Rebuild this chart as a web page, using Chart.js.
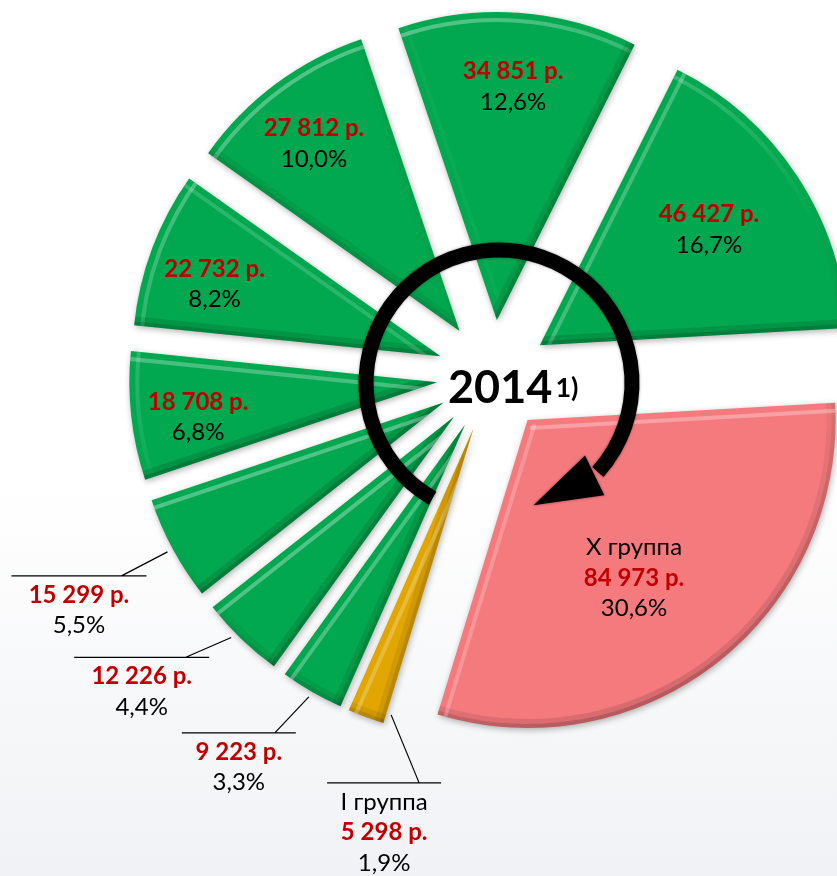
<!DOCTYPE html>
<html lang="ru">
<head>
    <meta charset="UTF-8">
    <title>2014 — распределение по группам</title>
    <script src="https://cdn.jsdelivr.net/npm/chart.js"></script>
    <style>
        html, body { margin: 0; padding: 0; background: #fff; }
        canvas#groups-chart { display: block; }
    </style>
</head>
<body>
    <canvas id="groups-chart" width="837" height="876"></canvas>

    <script>
        // Данные: группы от I до X (по часовой стрелке)
        const groupNames = ['I группа', 'II группа', 'III группа', 'IV группа', 'V группа',
                            'VI группа', 'VII группа', 'VIII группа', 'IX группа', 'X группа'];
        const groupValues = [5298, 9223, 12226, 15299, 18708, 22732, 27812, 34851, 46427, 84973];
        const valueLabels = ['5 298 р.', '9 223 р.', '12 226 р.', '15 299 р.', '18 708 р.',
                             '22 732 р.', '27 812 р.', '34 851 р.', '46 427 р.', '84 973 р.'];
        const percentLabels = ['1,9%', '3,3%', '4,4%', '5,5%', '6,8%',
                               '8,2%', '10,0%', '12,6%', '16,7%', '30,6%'];
        const shownNames = ['I группа', '', '', '', '', '', '', '', '', 'X группа'];
        const yearLabel = '2014';
        const yearNote = '1)';

        // Оформление
        const GREEN = '#02a84f';
        const GOLD = '#e2a600';
        const PINK = '#f47a7e';
        const sliceColors = [GOLD, GREEN, GREEN, GREEN, GREEN, GREEN, GREEN, GREEN, GREEN, PINK];
        const pieRadius = 308;
        const explodeShift = 56;
        const startRotation = 197;
        const valueRed = '#c00000';
        const fontFamily = 'Lato, "Open Sans", sans-serif';
        const lineGap = 30.5;

        // подписи внутри сектора: доля радиуса и поправка угла (град.)
        const insideAt = {
            4: { r: 0.785, da: -2.0 },
            5: { r: 0.77, da: -2.9 },
            6: { r: 0.77, da: -1.2 },
            7: { r: 0.76, da: 0 },
            8: { r: 0.665, da: -1 },
            9: { r: 0.618, da: 4.1 }
        };
        // выноски: сдвиг угла, добавка к радиусу, излом, полка
        const leaders = {
            0: { da: -4.4, dr: -10, dx: 28, dy: 68, left: 92, right: 22 },
            1: { da: 0, dr: 6, dx: -34, dy: 36, left: 93, right: 21 },
            2: { da: 1.5, dr: 6, dx: -46, dy: 20, left: 111, right: 24 },
            3: { da: 0, dr: 6, dx: -46, dy: 24, left: 110, right: 25 }
        };

        const rad = d => d * Math.PI / 180;
        const LIGHT = { x: -0.42, y: -0.91 };
        const HI = 0.32;                       // яркость блика
        const SHADE = [[18, 0.12], [8, 0.16]]; // ширина и плотность тени

        const backgroundPlugin = {
            id: 'paper',
            beforeDraw(chart) {
                const { ctx, width, height } = chart;
                const g = ctx.createLinearGradient(0, 0, 0, height);
                g.addColorStop(0, '#ffffff');
                g.addColorStop(0.55, '#ffffff');
                g.addColorStop(1, '#f1f2f5');
                ctx.save();
                ctx.fillStyle = g;
                ctx.fillRect(0, 0, width, height);
                ctx.restore();
            }
        };

        // раздвигаем секторы вдоль биссектрис, радиус не меняется
        const explodePlugin = {
            id: 'explode',
            beforeDatasetsDraw(chart) {
                const a = chart.chartArea;
                const cx = (a.left + a.right) / 2, cy = (a.top + a.bottom) / 2;
                chart.getDatasetMeta(0).data.forEach(arc => {
                    const mid = (arc.startAngle + arc.endAngle) / 2;
                    arc.x = cx + explodeShift * Math.cos(mid);
                    arc.y = cy + explodeShift * Math.sin(mid);
                });
                const ctx = chart.ctx;
                ctx.save();
                ctx.shadowColor = 'rgba(0, 0, 0, 0.3)';
                ctx.shadowBlur = 6;
                ctx.shadowOffsetX = 1;
                ctx.shadowOffsetY = 2;
            },
            afterDatasetsDraw(chart) {
                chart.ctx.restore();
            }
        };

        // объёмная фаска: светлая полоска на освещённых краях, тень на остальных
        function toneOf(nx, ny) {
            return nx * LIGHT.x + ny * LIGHT.y;
        }

        function conic(ctx, x, y, rgb, alphaOf) {
            const g = ctx.createConicGradient(0, x, y);
            for (let d = 0; d <= 360; d += 6) {
                const t = rad(d);
                const al = Math.max(0, alphaOf(toneOf(Math.cos(t), Math.sin(t))));
                g.addColorStop(d / 360, 'rgba(' + rgb + ',' + al.toFixed(3) + ')');
            }
            return g;
        }

        function bevelLine(ctx, x0, y0, x1, y1, nx, ny, tone) {
            if (tone > 0) {
                ctx.strokeStyle = 'rgba(255,255,255,' + (HI * tone).toFixed(3) + ')';
                ctx.lineWidth = 4;
                ctx.beginPath();
                ctx.moveTo(x0 - 8 * nx, y0 - 8 * ny);
                ctx.lineTo(x1 - 8 * nx, y1 - 8 * ny);
                ctx.stroke();
            } else {
                SHADE.forEach(([w, al]) => {
                    ctx.strokeStyle = 'rgba(0,0,0,' + (al * -tone).toFixed(3) + ')';
                    ctx.lineWidth = w;
                    ctx.beginPath();
                    ctx.moveTo(x0, y0);
                    ctx.lineTo(x1, y1);
                    ctx.stroke();
                });
            }
        }

        const bevelPlugin = {
            id: 'bevel',
            afterDatasetsDraw(chart) {
                const ctx = chart.ctx;
                chart.getDatasetMeta(0).data.forEach(arc => {
                    const { x, y, startAngle: s, endAngle: e, outerRadius: R } = arc;
                    ctx.save();
                    ctx.beginPath();
                    ctx.moveTo(x, y);
                    ctx.arc(x, y, R, s, e);
                    ctx.closePath();
                    ctx.clip();
                    ctx.lineCap = 'butt';
                    // дуга
                    ctx.strokeStyle = conic(ctx, x, y, '255,255,255', tn => HI * tn);
                    ctx.lineWidth = 4;
                    ctx.beginPath();
                    ctx.arc(x, y, R - 8, s - 0.05, e + 0.05);
                    ctx.stroke();
                    SHADE.forEach(([w, al]) => {
                        ctx.strokeStyle = conic(ctx, x, y, '0,0,0', tn => -al * tn);
                        ctx.lineWidth = w;
                        ctx.beginPath();
                        ctx.arc(x, y, R, s - 0.05, e + 0.05);
                        ctx.stroke();
                    });
                    // прямые края
                    [[s, s - Math.PI / 2], [e, e + Math.PI / 2]].forEach(([ang, nAng]) => {
                        const nx = Math.cos(nAng), ny = Math.sin(nAng);
                        bevelLine(ctx, x + 2 * Math.cos(ang), y + 2 * Math.sin(ang),
                            x + (R + 10) * Math.cos(ang), y + (R + 10) * Math.sin(ang),
                            nx, ny, toneOf(nx, ny));
                    });
                    ctx.restore();
                });
            }
        };

        function drawLines(ctx, x, y, lines) {
            lines.forEach((ln, n) => {
                ctx.font = (ln.bold ? 'bold ' : '') + '24px ' + fontFamily;
                ctx.fillStyle = ln.color;
                ctx.fillText(ln.text, x, y + n * lineGap);
            });
        }

        function linesFor(i) {
            const out = [];
            if (shownNames[i]) out.push({ text: shownNames[i], color: '#000', bold: false });
            out.push({ text: valueLabels[i], color: valueRed, bold: true });
            out.push({ text: percentLabels[i], color: '#000', bold: false });
            return out;
        }

        const labelsPlugin = {
            id: 'groupLabels',
            afterDatasetsDraw(chart) {
                const ctx = chart.ctx;
                const arcs = chart.getDatasetMeta(0).data;
                ctx.save();
                ctx.textAlign = 'center';
                ctx.textBaseline = 'middle';
                arcs.forEach((arc, i) => {
                    const mid = (arc.startAngle + arc.endAngle) / 2;
                    const lines = linesFor(i);
                    const inside = insideAt[i];
                    if (inside) {
                        const r = arc.outerRadius * inside.r;
                        const a = mid + rad(inside.da);
                        const px = arc.x + r * Math.cos(a);
                        const py = arc.y + r * Math.sin(a);
                        const top = lines.length === 3 ? py - lineGap : py - lineGap / 2;
                        drawLines(ctx, px, top, lines);
                    } else if (leaders[i]) {
                        const L = leaders[i];
                        const a = mid + rad(L.da);
                        const r = arc.outerRadius + L.dr;
                        const ax = arc.x + r * Math.cos(a);
                        const ay = arc.y + r * Math.sin(a);
                        const ex = ax + L.dx, ey = ay + L.dy;
                        ctx.strokeStyle = '#000';
                        ctx.lineWidth = 1.2;
                        ctx.beginPath();
                        ctx.moveTo(ax, ay);
                        ctx.lineTo(ex, ey);
                        ctx.moveTo(ex - L.left, ey);
                        ctx.lineTo(ex + L.right, ey);
                        ctx.stroke();
                        const tx = ex + (L.right - L.left) / 2;
                        drawLines(ctx, tx, ey + 19, lines);
                    }
                });
                ctx.restore();

                // круговая стрелка и год
                const a = chart.chartArea;
                const cx = (a.left + a.right) / 2, cy = (a.top + a.bottom) / 2;
                const ax = cx + 6, ay = cy + 7, ar = 133;
                const endDeg = 134;
                ctx.save();
                ctx.strokeStyle = '#000';
                ctx.fillStyle = '#000';
                ctx.lineWidth = 15;
                ctx.shadowColor = 'rgba(0,0,0,0.4)';
                ctx.shadowBlur = 3;
                ctx.beginPath();
                ctx.arc(ax, ay, ar, rad(210 - 90), rad(endDeg - 2 - 90), false);
                ctx.stroke();
                const t = rad(endDeg - 90);
                const bx = ax + ar * Math.cos(t), by = ay + ar * Math.sin(t);
                const dir = t + Math.PI / 2 + rad(20);
                const px = -Math.sin(dir), py = Math.cos(dir);
                ctx.beginPath();
                ctx.moveTo(bx + 22 * px, by + 22 * py);
                ctx.lineTo(bx - 22 * px, by - 22 * py);
                ctx.lineTo(bx + 68 * Math.cos(dir), by + 68 * Math.sin(dir));
                ctx.closePath();
                ctx.fill();
                ctx.restore();

                ctx.save();
                ctx.fillStyle = '#000';
                ctx.textAlign = 'left';
                ctx.textBaseline = 'alphabetic';
                ctx.font = 'bold 45px ' + fontFamily;
                const yx = cx - 45, yy = cy + 27;
                ctx.fillText(yearLabel, yx, yy);
                const w = ctx.measureText(yearLabel).width;
                ctx.font = 'bold 27px ' + fontFamily;
                ctx.fillText(yearNote, yx + w + 3, yy - 6);
                ctx.restore();
            }
        };

        document.addEventListener('DOMContentLoaded', () => {
            new Chart(document.getElementById('groups-chart'), {
                type: 'pie',
                data: {
                    labels: groupNames,
                    datasets: [{
                        data: groupValues,
                        backgroundColor: sliceColors,
                        borderWidth: 0,
                        clip: false
                    }]
                },
                options: {
                    responsive: false,
                    animation: false,
                    events: [],
                    rotation: startRotation,
                    radius: pieRadius,
                    layout: { padding: { left: 149, right: 0, top: 0, bottom: 124 } },
                    plugins: {
                        legend: { display: false },
                        tooltip: { enabled: false }
                    }
                },
                plugins: [backgroundPlugin, explodePlugin, bevelPlugin, labelsPlugin]
            });
        });
    </script>
</body>
</html>
